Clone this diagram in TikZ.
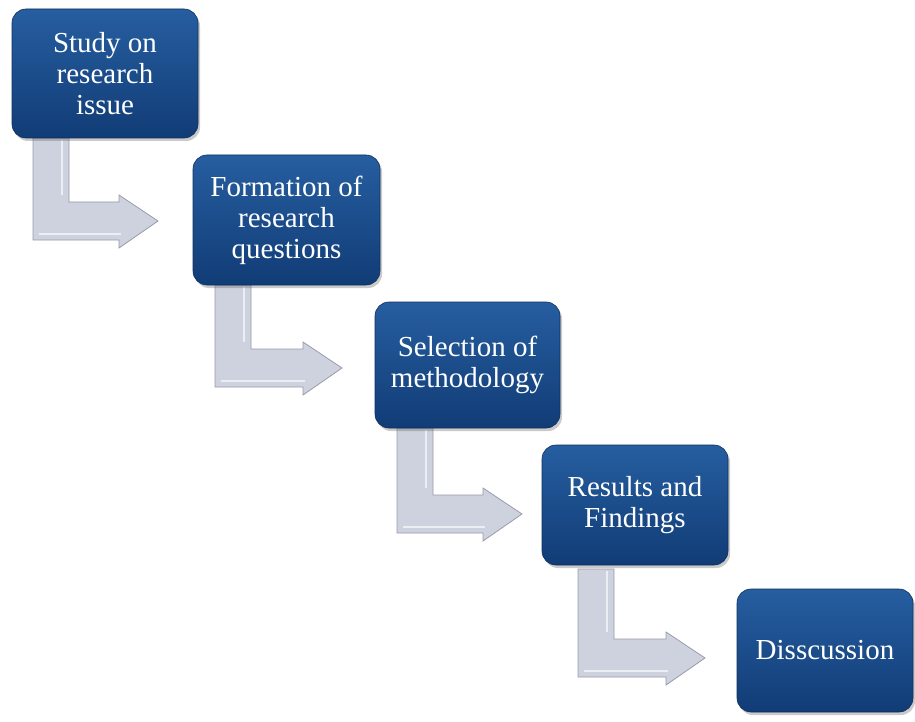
\documentclass[tikz,border=0pt]{standalone}
\usepackage{fontspec}
\setmainfont{Liberation Serif}
\usetikzlibrary{shadows,calc}
\definecolor{boxtop}{RGB}{38,94,160}
\definecolor{boxbot}{RGB}{17,60,118}
\definecolor{arrfill}{RGB}{206,210,222}
\definecolor{arrlight}{RGB}{236,238,244}
\definecolor{arredge}{RGB}{150,155,170}
\tikzset{
  stagebox/.style={rounded corners=14pt, draw=boxbot!80!black, line width=0.6pt,
    top color=boxtop, bottom color=boxbot, text=white, align=center,
    font=\fontsize{29}{31}\selectfont, inner sep=0pt,
    drop shadow={shadow xshift=2pt, shadow yshift=-3pt, opacity=0.35, fill=black!60}},
  elbow/.style={fill=arrfill, draw=arredge, line width=0.8pt, line join=miter},
  bevel/.style={draw=arrlight, line width=1.6pt}
}
% #1 left x, #2 top y, #3 bottom y, #4 tip x
\newcommand{\elbowarrow}[4]{%
  \pgfmathsetmacro{\xa}{#1}\pgfmathsetmacro{\xb}{#1+36}%
  \pgfmathsetmacro{\yb}{#3}\pgfmathsetmacro{\yh}{#3-38}%
  \pgfmathsetmacro{\hx}{#4-39}\pgfmathsetmacro{\ym}{#3-19}%
  \pgfmathsetmacro{\hta}{#3-45}\pgfmathsetmacro{\htb}{#3+8}%
  \path[elbow] (\xa,#2) -- (\xb,#2) -- (\xb,\yh) -- (\hx,\yh) -- (\hx,\hta)
     -- (#4,\ym) -- (\hx,\htb) -- (\hx,\yb) -- (\xa,\yb) -- cycle;
  \draw[bevel] (\xb-7,#2+2) -- (\xb-7,\yh-7);
  \draw[arrlight, line width=1.2pt] (\xa+6,\yb-6) -- (\hx+2,\yb-6);
}
\begin{document}
\begin{tikzpicture}[x=1pt,y=-1pt]
\useasboundingbox (0,0) rectangle (915,722);
% connectors (elbow block arrows)
\elbowarrow{33}{138}{240}{158}
\elbowarrow{215}{285}{387}{342}
\elbowarrow{397}{428}{533}{522}
\elbowarrow{578}{569}{677}{705}
% stages
\node[stagebox, minimum width=186pt, minimum height=129pt] (b1) at (105,73.5) {Study on\\research\\issue};
\node[stagebox, minimum width=187pt, minimum height=130pt] (b2) at (286.5,220) {Formation of\\research\\questions};
\node[stagebox, minimum width=185pt, minimum height=126pt] (b3) at (467.5,365) {Selection of\\methodology};
\node[stagebox, minimum width=186pt, minimum height=120pt] (b4) at (635,505) {Results and\\Findings};
\node[stagebox, minimum width=176pt, minimum height=123pt] (b5) at (825,650.5) {Disscussion};
\end{tikzpicture}
\end{document}
